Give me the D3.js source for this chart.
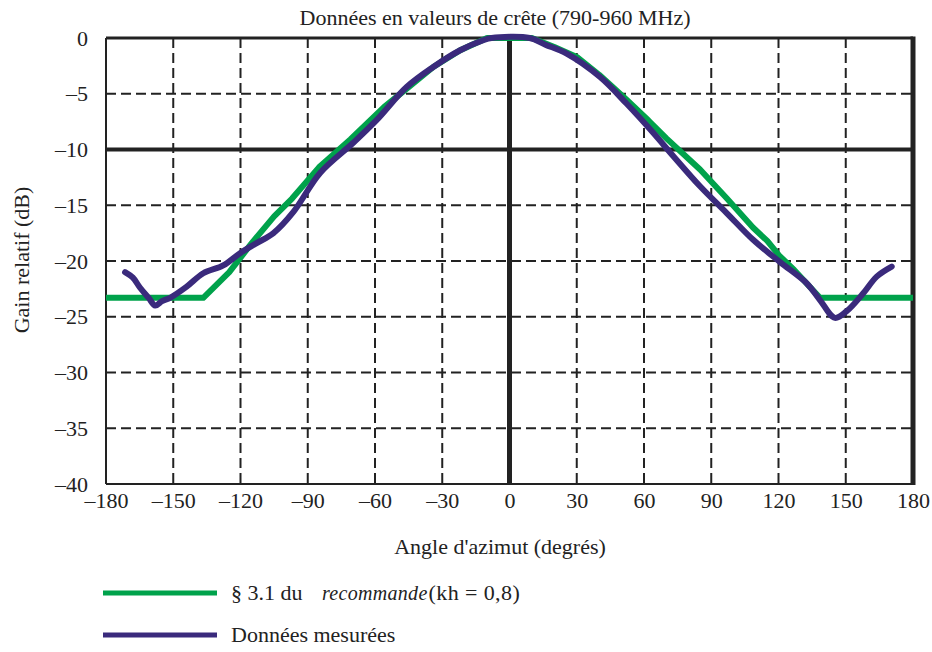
<!DOCTYPE html>
<meta charset="utf-8">
<style>
body { margin: 0; background: #fff; }
.grid line { stroke: #222; stroke-width: 2; stroke-dasharray: 10,5; }
</style>
<svg width="932" height="652"></svg>
<script src="https://cdn.jsdelivr.net/npm/d3@7/dist/d3.min.js"></script>
<script>

// ticks
var xTicks = [-180, -150, -120, -90, -60, -30, 0, 30, 60, 90, 120, 150, 180];
var yTicks = [0, -5, -10, -15, -20, -25, -30, -35, -40];

// § 3.1 curve (kh = 0,8)
var recAngle = [-180, -136.6, -125, -115, -105, -97, -85, -71, -56, -45, -34, -22, -10, 10, 20, 30, 40, 52, 62, 70, 85, 97, 108.6, 115, 120.7, 127, 138.5, 180];
var recGain  = [-23.3, -23.3, -21.0, -18.4, -16.0, -14.4, -11.6, -9.1, -6.2, -4.4, -2.6, -1.1, 0, 0, -0.8, -1.7, -3.3, -5.5, -7.4, -9.0, -11.8, -14.4, -17.0, -18.2, -19.6, -20.8, -23.3, -23.3];

// measured data
var measAngle = [-171.5, -168, -164.8, -161, -158, -155, -151.4, -144, -136.6, -127.7, -120.2, -112.8, -105.3, -96.4, -84.5, -69.7, -59.2, -45.9, -34, -22, -11.7, -8, 9, 16, 25.5, 40.4, 52.3, 64.1, 73.1, 85, 96.9, 108.7, 120.7, 132.6, 138.5, 145.2, 150.4, 157.8, 163.8, 170.5];
var measGain  = [-21.0, -21.5, -22.4, -23.3, -24.0, -23.6, -23.3, -22.3, -21.1, -20.4, -19.3, -18.4, -17.5, -15.6, -12.1, -9.4, -7.35, -4.4, -2.6, -1.1, -0.2, 0, 0, -0.6, -1.4, -3.5, -5.9, -8.5, -10.6, -13.3, -15.7, -18.1, -20.1, -22.0, -23.5, -25.1, -24.5, -22.9, -21.4, -20.5];

var green = "#00a24b", purple = "#3a2a7c";
var serif = "Liberation Serif";
var fs = "22px";

var margin = {top: 38, right: 19, bottom: 168, left: 106},
    width = 932 - margin.left - margin.right,
    height = 652 - margin.top - margin.bottom;

var root = d3.select("svg");
var svg = root.append("g")
    .attr("transform", "translate(" + margin.left + "," + margin.top + ")");

var x = d3.scaleLinear().domain([-180, 180]).range([0, width]);
var y = d3.scaleLinear().domain([-40, 0]).range([height, 0]);

// grid
var grid = svg.append("g").attr("class", "grid");
grid.selectAll(".vx").data(xTicks.filter(function(d){ return d != 0 && Math.abs(d) != 180; }))
  .enter().append("line")
    .attr("x1", d => x(d)).attr("x2", d => x(d))
    .attr("y1", 0).attr("y2", height);
grid.selectAll(".hy").data(yTicks.filter(function(d){ return d != 0 && d != -10 && d != -40; }))
  .enter().append("line")
    .attr("y1", d => y(d)).attr("y2", d => y(d))
    .attr("x1", 0).attr("x2", width);

// bold reference lines
svg.append("line").attr("x1", 0).attr("x2", width).attr("y1", y(-10)).attr("y2", y(-10))
  .attr("stroke", "#222").attr("stroke-width", 4);
svg.append("line").attr("x1", x(0)).attr("x2", x(0)).attr("y1", 0).attr("y2", height)
  .attr("stroke", "#222").attr("stroke-width", 5);

// frame
svg.append("line").attr("x1", 0).attr("x2", 0).attr("y1", 0).attr("y2", height).attr("stroke", "#222").attr("stroke-width", 2);
svg.append("line").attr("x1", 0).attr("x2", width).attr("y1", height).attr("y2", height).attr("stroke", "#222").attr("stroke-width", 2);
svg.append("line").attr("x1", 0).attr("x2", width).attr("y1", 0).attr("y2", 0).attr("stroke", "#222").attr("stroke-width", 3);
svg.append("line").attr("x1", width).attr("x2", width).attr("y1", -1.5).attr("y2", height + 1).attr("stroke", "#222").attr("stroke-width", 5);

// axes (labels only)
var fmt = function(d){ return d < 0 ? "\u2013" + Math.abs(d) : d; };
var xAxis = svg.append("g").attr("transform", "translate(0," + height + ")")
  .call(d3.axisBottom(x).tickValues(xTicks).tickFormat(fmt).tickSize(0).tickPadding(8));
var yAxis = svg.append("g")
  .call(d3.axisLeft(y).tickValues(yTicks).tickFormat(fmt).tickSize(0).tickPadding(18));
[xAxis, yAxis].forEach(function(a){
  a.select(".domain").remove();
  a.selectAll("text").style("font-family", serif).style("font-size", fs).attr("fill", "#222");
});

// curves
var line = d3.line().x(d => x(d[0])).y(d => y(d[1]));
svg.append("path").datum(d3.zip(recAngle, recGain))
  .attr("d", line.curve(d3.curveLinear)).attr("fill", "none").attr("stroke", green).attr("stroke-width", 6)
  .attr("stroke-linejoin", "round");
svg.append("path").datum(d3.zip(measAngle, measGain))
  .attr("d", line.curve(d3.curveCatmullRom)).attr("fill", "none").attr("stroke", purple).attr("stroke-width", 6)
  .attr("stroke-linejoin", "round").attr("stroke-linecap", "round");

// titles
root.append("text").attr("x", 495).attr("y", 25).attr("text-anchor", "middle")
  .style("font-family", serif).style("font-size", fs).attr("fill", "#222")
  .text("Données en valeurs de crête (790-960 MHz)");
root.append("text").attr("x", 500).attr("y", 554).attr("text-anchor", "middle")
  .style("font-family", serif).style("font-size", fs).attr("fill", "#222")
  .text("Angle d'azimut (degrés)");
root.append("text").attr("transform", "translate(29,260) rotate(-90)").attr("text-anchor", "middle")
  .style("font-family", serif).style("font-size", fs).attr("fill", "#222")
  .text("Gain relatif (dB)");

// legend
var legend = root.append("g").style("font-family", serif).style("font-size", fs).attr("fill", "#222");
legend.append("line").attr("x1", 103).attr("x2", 217).attr("y1", 593).attr("y2", 593)
  .attr("stroke", green).attr("stroke-width", 5);
legend.append("line").attr("x1", 103).attr("x2", 217).attr("y1", 635).attr("y2", 635)
  .attr("stroke", purple).attr("stroke-width", 5);
var t1 = legend.append("text").attr("x", 231).attr("y", 600);
t1.append("tspan").text("§ 3.1 du");
t1.append("tspan").attr("x", 322).style("font-style", "italic").style("font-size", "20px")
  .style("letter-spacing", "0.3px").text("recommande");
t1.append("tspan").attr("dx", 1).style("letter-spacing", "0.4px").text("(kh = 0,8)");
legend.append("text").attr("x", 231).attr("y", 642).text("Données mesurées");

</script>
